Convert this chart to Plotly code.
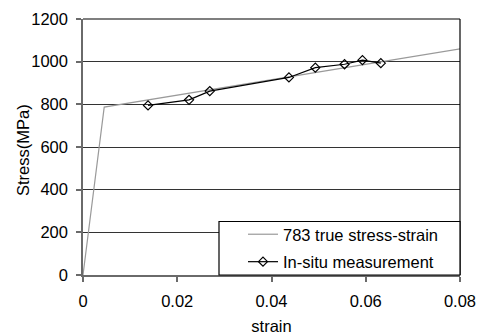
import plotly.graph_objects as go

# True stress-strain curve (783)
true_strain = [0.0, 0.0045, 0.0812]
true_stress = [0, 787, 1064]

# In-situ measurement points
insitu_strain = [0.0138, 0.0225, 0.0269, 0.0437, 0.0493, 0.0555, 0.0593, 0.0632]
insitu_stress = [795, 821, 862, 926, 972, 988, 1007, 993]

x_ticks = [0, 0.02, 0.04, 0.06, 0.08]
x_ticklabels = ["0", "0.02", "0.04", "0.06", "0.08"]
y_ticks = [0, 200, 400, 600, 800, 1000, 1200]

FONT = "Liberation Sans, Arial, sans-serif"

W, H = 480, 335
ML, MR, MT, MB = 83, 20, 19, 60
PW, PH = W - ML - MR, H - MT - MB

fig = go.Figure()
fig.add_trace(go.Scatter(
    x=true_strain, y=true_stress, mode="lines",
    name="783 true stress-strain",
    line=dict(color="#9a9a9a", width=1.2),
    legendgroup="a",
))
fig.add_trace(go.Scatter(
    x=insitu_strain, y=insitu_stress, mode="lines+markers",
    name="In-situ measurement",
    line=dict(color="black", width=1.2),
    marker=dict(symbol="diamond-open", size=7, color="black", line=dict(width=1.2)),
    legendgroup="b",
))

# legend frame (paper coords) as in the reference
box_x0 = (219 - ML) / PW
box_y1 = (275.5 - 222) / PH

fig.update_layout(
    width=W, height=H,
    margin=dict(l=ML, r=MR, t=MT, b=MB, autoexpand=False),
    paper_bgcolor="white", plot_bgcolor="white",
    font=dict(family=FONT, size=16.5, color="black"),
    showlegend=True,
    legend=dict(
        x=(243 - ML) / PW, xanchor="left",
        y=1 - (217 - MT) / PH, yanchor="top",
        bgcolor="rgba(0,0,0,0)", borderwidth=0,
        font=dict(family=FONT, size=16.5, color="black"),
        traceorder="grouped", tracegroupgap=3,
        itemwidth=30,
    ),
    xaxis=dict(
        range=[0, 0.08], tickvals=x_ticks, ticktext=x_ticklabels,
        showgrid=False, zeroline=False, automargin=False,
        showline=True, linecolor="#6a6a6a", linewidth=1.5,
        ticks="outside", ticklen=5, tickcolor="#6a6a6a", tickwidth=1.5,
        ticklabelstandoff=5,
        title=dict(text="strain", font=dict(family=FONT, size=16.5), standoff=14),
        tickfont=dict(family=FONT, size=16.5),
    ),
    yaxis=dict(
        range=[0, 1200], tickvals=y_ticks,
        showgrid=True, gridcolor="#333333", gridwidth=1,
        zeroline=False, automargin=False,
        showline=True, linecolor="#6a6a6a", linewidth=1.5,
        ticks="outside", ticklen=5, tickcolor="#6a6a6a", tickwidth=1.5,
        ticklabelstandoff=5,
        tickfont=dict(family=FONT, size=16.5),
    ),
    annotations=[
        dict(text="Stress(MPa)", xref="paper", yref="paper",
             x=(23 - ML) / PW, y=(H - MB - 150) / PH,
             xanchor="center", yanchor="middle", textangle=-90, showarrow=False,
             font=dict(family=FONT, size=16.5, color="black")),
    ],
    shapes=[
        dict(type="line", xref="paper", yref="paper", x0=0, x1=1, y0=1, y1=1,
             line=dict(color="black", width=1.2)),
        dict(type="line", xref="paper", yref="paper", x0=1, x1=1, y0=0, y1=1,
             line=dict(color="black", width=1.2)),
        dict(type="rect", xref="paper", yref="paper", x0=box_x0, x1=1, y0=0, y1=box_y1,
             fillcolor="white", line=dict(color="black", width=1.2), layer="above"),
    ],
)

fig.write_html("out.html")
